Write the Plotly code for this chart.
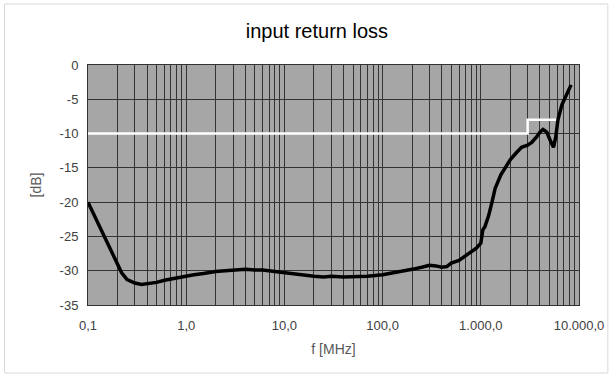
import plotly.graph_objects as go

# Data
freq_mhz = [0.1, 0.13, 0.17, 0.2, 0.22, 0.25, 0.3, 0.35, 0.4, 0.5, 0.6, 0.7, 0.8, 1.0, 1.2, 1.5,
            2, 2.5, 3, 4, 5, 6, 8, 10, 15, 20, 25, 30, 40, 50, 70, 100, 150, 200, 250, 300,
            350, 400, 450, 500, 600, 700, 800, 900, 1000, 1050, 1100, 1200, 1300, 1400, 1600,
            1800, 2000, 2300, 2600, 3000, 3300, 3700, 4000, 4300, 4700, 5100, 5500, 5800,
            6100, 6700, 7600, 8300]
loss_db = [-20, -23.4, -27, -29.2, -30.3, -31.3, -31.8, -32, -31.9, -31.7, -31.4, -31.2, -31,
           -30.8, -30.6, -30.4, -30.1, -30, -29.9, -29.8, -29.9, -29.9, -30.1, -30.3, -30.6,
           -30.8, -30.9, -30.8, -30.9, -30.9, -30.8, -30.6, -30.2, -29.8, -29.5, -29.2, -29.3,
           -29.5, -29.4, -28.9, -28.5, -27.8, -27.2, -26.7, -26, -24, -23.6, -22, -20, -18,
           -16, -14.8, -13.8, -12.8, -12, -11.7, -11.3, -10.5, -9.8, -9.4, -9.8, -11, -12,
           -10.5, -8, -5.8, -4.2, -2.9]

limit_f = [0.1, 3000, 3000, 6000]
limit_db = [-10, -10, -8, -8]

tick_vals = [0.1, 1, 10, 100, 1000, 10000]
tick_text = ["0,1", "1,0", "10,0", "100,0", "1.000,0", "10.000,0"]
y_ticks = [0, -5, -10, -15, -20, -25, -30, -35]
y_text = ["0", "-5", "-10", "-15", "-20", "-25", "-30", "-35"]

font_family = "Liberation Sans, Arial, sans-serif"
grid_col = "#333333"
label_col = "#404040"

fig = go.Figure()
fig.add_trace(go.Scatter(x=limit_f, y=limit_db, mode="lines",
                         line=dict(color="white", width=2.5), showlegend=False,
                         hoverinfo="skip"))
fig.add_trace(go.Scatter(x=freq_mhz, y=loss_db, mode="lines",
                         line=dict(color="black", width=3.5), showlegend=False))

fig.update_layout(
    width=616, height=378,
    margin=dict(l=88, r=34, t=65, b=73),
    paper_bgcolor="white",
    plot_bgcolor="#a6a6a6",
    title=dict(text="input return loss", x=0.5145, xanchor="center", y=0.918, yanchor="middle",
               font=dict(family=font_family, size=20, color="#000000")),
    font=dict(family=font_family, size=13, color=label_col),
    xaxis=dict(
        type="log", range=[-1, 4],
        tickmode="array", tickvals=tick_vals, ticktext=tick_text,
        showgrid=True, gridcolor=grid_col, gridwidth=1,
        minor=dict(dtick="D1", showgrid=True, gridcolor=grid_col, gridwidth=1, ticks=""),
        showline=True, linecolor=grid_col, linewidth=1, mirror=True,
        ticks="", zeroline=False, ticklabelstandoff=8,
        title=dict(text="f [MHz]", font=dict(size=14, color="#595959"), standoff=12),
        tickfont=dict(size=13, color=label_col),
    ),
    yaxis=dict(
        range=[-35, 0], tickmode="array", tickvals=y_ticks, ticktext=y_text,
        showgrid=True, gridcolor=grid_col, gridwidth=1,
        showline=True, linecolor=grid_col, linewidth=1, mirror=True,
        ticks="", zeroline=False, ticklabelstandoff=6,
        title=dict(text="[dB]", font=dict(size=14, color="#595959"), standoff=14),
        tickfont=dict(size=13, color=label_col),
    ),
    shapes=[dict(type="rect", xref="paper", yref="paper",
                 x0=(4 - 88) / 494, x1=(611 - 88) / 494,
                 y0=(305 - 373) / 240, y1=(305 - 4) / 240,
                 line=dict(color="#d9d9d9", width=1), fillcolor="rgba(0,0,0,0)",
                 layer="below")],
)

fig.write_html("out.html")
